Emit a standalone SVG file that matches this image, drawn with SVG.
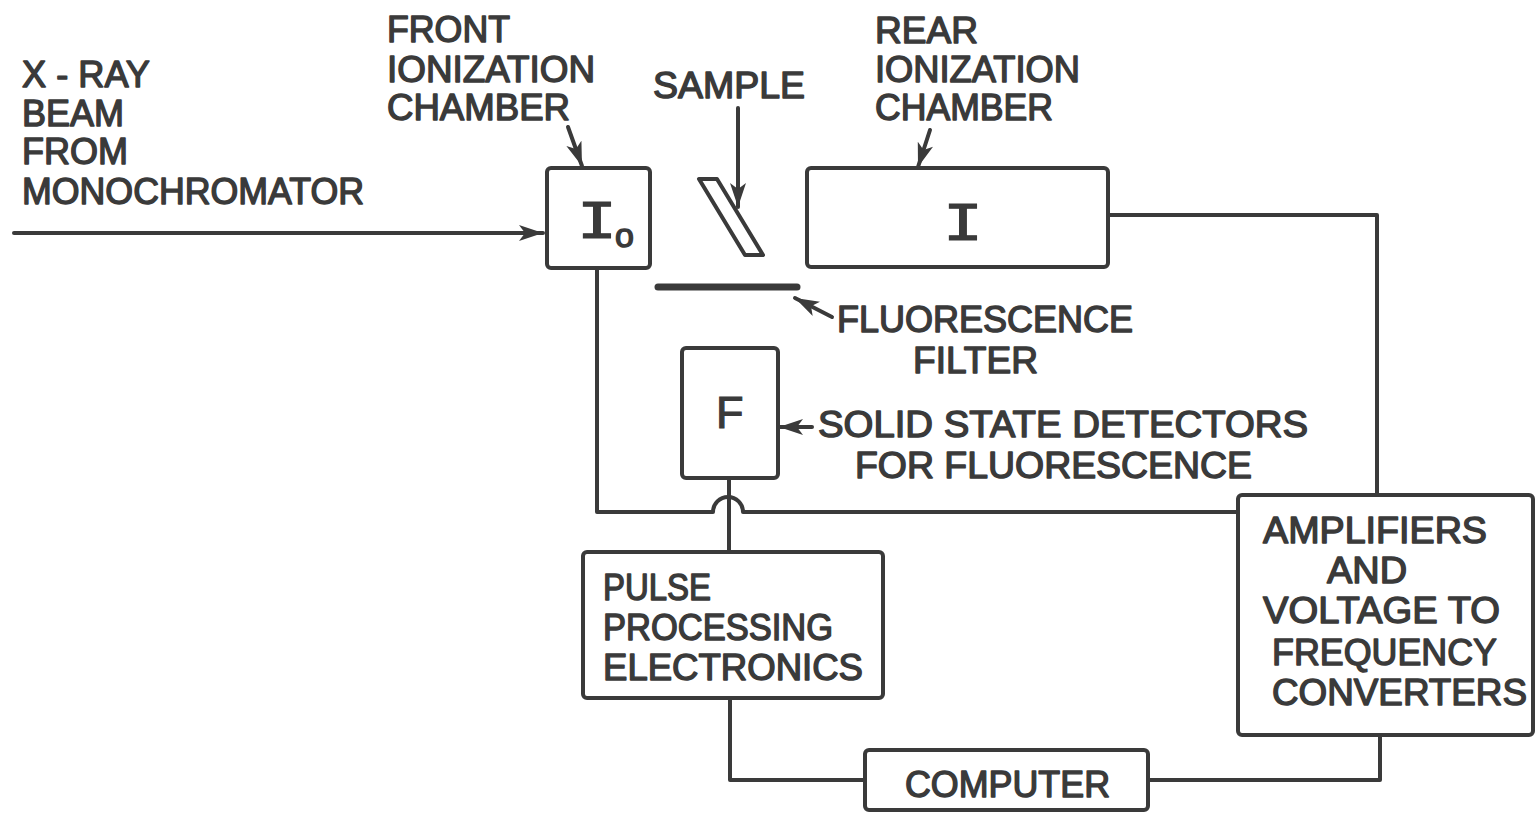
<svg xmlns="http://www.w3.org/2000/svg" width="1537" height="813" viewBox="0 0 1537 813">
<style>
.box{fill:none;stroke:#3a3a3a;stroke-width:4;stroke-linejoin:round}
.wire{fill:none;stroke:#3a3a3a;stroke-width:4;stroke-linejoin:round;stroke-linecap:round}
.ptr{fill:none;stroke:#3a3a3a;stroke-width:4;stroke-linecap:round}
.t{font-family:"Liberation Sans",Arial,sans-serif;font-size:36px;fill:#3a3a3a;stroke:#3a3a3a;stroke-width:1.4;stroke-linejoin:round}
.big{font-family:"Liberation Sans",Arial,sans-serif;font-size:45px;fill:#3a3a3a;stroke:#3a3a3a;stroke-width:1.2}
.sym{font-family:"DejaVu Sans Mono",monospace;font-size:50px;fill:#3a3a3a;stroke:#3a3a3a;stroke-width:1}
</style>
<defs>
<marker id="ah" markerUnits="userSpaceOnUse" markerWidth="26" markerHeight="18" refX="24" refY="9" orient="auto">
<path d="M0,1 L24,9 L0,17 L6,9 Z" fill="#3a3a3a"/>
</marker>
</defs>
<rect width="1537" height="813" fill="#ffffff"/>

<g id="connectors">
<line class="ptr" x1="14" y1="233" x2="543" y2="233" marker-end="url(#ah)"/>
<line class="ptr" x1="568" y1="127" x2="582" y2="166" marker-end="url(#ah)"/>
<line class="ptr" x1="738" y1="108" x2="738" y2="207" marker-end="url(#ah)"/>
<line class="ptr" x1="930" y1="130" x2="918" y2="167" marker-end="url(#ah)"/>
<line class="ptr" x1="832" y1="317" x2="795" y2="298" marker-end="url(#ah)"/>
<line class="ptr" x1="812" y1="427" x2="779" y2="427" marker-end="url(#ah)"/>
<path class="wire" d="M597,269 V512 H713 A15,15 0 0 1 743,512 H1238"/>
<path class="wire" d="M1108,215 H1377 V495"/>
<path class="wire" d="M729,478 V552"/>
<path class="wire" d="M730,698 V780 H865"/>
<path class="wire" d="M1148,780 H1380 V735"/>
</g>

<g id="beam-label">
<text class="t" x="22" y="87" textLength="128" lengthAdjust="spacingAndGlyphs">X - RAY</text>
<text class="t" x="22" y="126">BEAM</text>
<text class="t" x="22" y="164">FROM</text>
<text class="t" x="22" y="204" textLength="342" lengthAdjust="spacingAndGlyphs">MONOCHROMATOR</text>
</g>

<g id="front-label">
<text class="t" x="387" y="42" textLength="123" lengthAdjust="spacingAndGlyphs">FRONT</text>
<text class="t" x="387" y="82" textLength="208" lengthAdjust="spacingAndGlyphs">IONIZATION</text>
<text class="t" x="387" y="120" textLength="183" lengthAdjust="spacingAndGlyphs">CHAMBER</text>
</g>

<g id="io-chamber">
<rect class="box" x="547" y="168" width="103" height="100" rx="4"/>
<text class="sym" x="577" y="238" textLength="40" lengthAdjust="spacingAndGlyphs">I</text>
<text class="t" x="615" y="247" style="font-size:34px">o</text>
</g>

<g id="sample">
<text class="t" x="653" y="98" textLength="152" lengthAdjust="spacingAndGlyphs">SAMPLE</text>
<polygon class="box" points="699,179 717,179 763,255 745,255"/>
</g>

<g id="filter">
<line x1="658" y1="287" x2="797" y2="287" stroke="#3a3a3a" stroke-width="7" stroke-linecap="round"/>
<text class="t" x="837" y="332" textLength="296" lengthAdjust="spacingAndGlyphs">FLUORESCENCE</text>
<text class="t" x="913" y="373" textLength="125" lengthAdjust="spacingAndGlyphs">FILTER</text>
</g>

<g id="rear-chamber">
<text class="t" x="875" y="43" textLength="103" lengthAdjust="spacingAndGlyphs">REAR</text>
<text class="t" x="875" y="82" textLength="205" lengthAdjust="spacingAndGlyphs">IONIZATION</text>
<text class="t" x="875" y="120" textLength="178" lengthAdjust="spacingAndGlyphs">CHAMBER</text>
<rect class="box" x="807" y="168" width="301" height="99" rx="4"/>
<text class="sym" x="943" y="240" textLength="40" lengthAdjust="spacingAndGlyphs">I</text>
</g>

<g id="f-detector">
<rect class="box" x="682" y="348" width="96" height="130" rx="4"/>
<text class="big" x="716" y="428">F</text>
<text class="t" x="818" y="437" textLength="490" lengthAdjust="spacingAndGlyphs">SOLID STATE DETECTORS</text>
<text class="t" x="855" y="478" textLength="397" lengthAdjust="spacingAndGlyphs">FOR FLUORESCENCE</text>
</g>

<g id="pulse">
<rect class="box" x="583" y="552" width="300" height="146" rx="4"/>
<text class="t" x="603" y="600" textLength="108" lengthAdjust="spacingAndGlyphs">PULSE</text>
<text class="t" x="603" y="640" textLength="230" lengthAdjust="spacingAndGlyphs">PROCESSING</text>
<text class="t" x="603" y="680" textLength="260" lengthAdjust="spacingAndGlyphs">ELECTRONICS</text>
</g>

<g id="computer">
<rect class="box" x="865" y="750" width="283" height="60" rx="4"/>
<text class="t" x="905" y="797" textLength="205" lengthAdjust="spacingAndGlyphs">COMPUTER</text>
</g>

<g id="amplifiers">
<rect class="box" x="1238" y="495" width="295" height="240" rx="4"/>
<text class="t" x="1263" y="543" textLength="224" lengthAdjust="spacingAndGlyphs">AMPLIFIERS</text>
<text class="t" x="1327" y="583" textLength="80" lengthAdjust="spacingAndGlyphs">AND</text>
<text class="t" x="1263" y="623" textLength="237" lengthAdjust="spacingAndGlyphs">VOLTAGE TO</text>
<text class="t" x="1272" y="665" textLength="225" lengthAdjust="spacingAndGlyphs">FREQUENCY</text>
<text class="t" x="1272" y="705" textLength="255" lengthAdjust="spacingAndGlyphs">CONVERTERS</text>
</g>
</svg>
